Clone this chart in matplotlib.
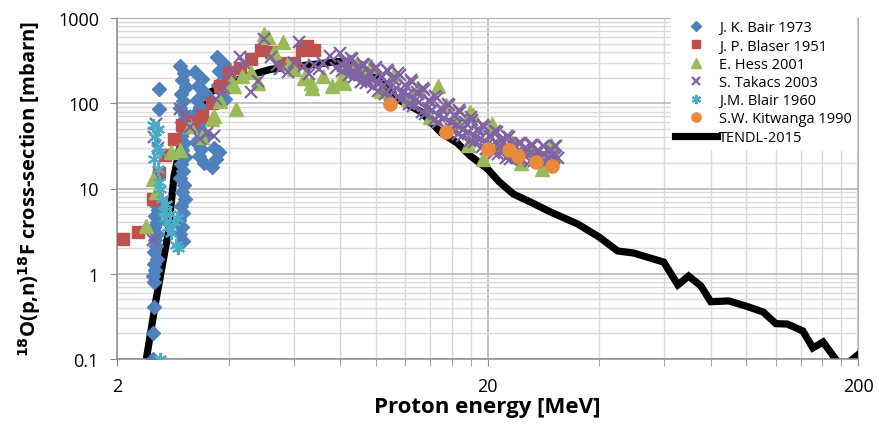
import numpy as np
import matplotlib.pyplot as plt
from matplotlib.ticker import FixedLocator, NullFormatter, FixedFormatter

# --- cross-section data, E in MeV, sigma in mbarn ---
bair_e = [2.50, 2.50, 2.52, 2.52,
          2.50, 2.54, 2.52, 2.56, 2.51, 2.55, 2.53, 2.57, 2.52, 2.56, 2.54, 2.58, 2.53, 2.57,
          2.60, 2.60,
          2.96, 3.04, 3.00, 3.07, 2.98, 3.02, 2.96, 3.05, 3.00, 3.07, 2.97, 3.03, 3.00, 3.06,
          2.98, 3.02, 2.95, 3.04, 3.00, 3.06, 2.97, 3.02, 2.94, 3.00, 2.96, 3.02,
          3.25, 3.40, 3.30, 3.45, 3.28, 3.36, 3.24, 3.42, 3.32, 3.46, 3.27, 3.38, 3.33, 3.44,
          3.72, 3.90, 3.78, 3.95, 3.75, 3.85, 3.92,
          3.60, 3.70, 3.78, 3.65]
bair_s = [0.10, 0.20, 0.41, 0.80,
          0.93, 1.1, 1.3, 1.5, 1.8, 2.1, 2.5, 2.9, 3.5, 4.1, 4.8, 5.6, 6.6, 7.7,
          147, 86,
          274, 226, 187, 155, 128, 106, 88, 73, 60, 50, 41, 34, 28, 23.4,
          19.4, 16.0, 13.3, 11.0, 9.1, 7.5, 6.2, 5.2, 4.3, 3.5, 2.9, 2.4,
          230, 192, 159, 131, 108, 90, 75, 62, 51, 42, 35, 29, 24, 20,
          349, 289, 239, 198, 164, 135, 112,
          18, 22, 27, 30]

blaser_e = [2.08, 2.28, 2.50, 2.60, 2.70, 2.85, 3.00, 3.20, 3.40, 3.60, 3.80, 4.00, 4.30,
            4.60, 4.90, 5.20, 5.60, 6.00, 6.30, 6.50, 6.80]
blaser_s = [2.55, 3.1, 7.5, 15, 25, 38, 55, 60, 70, 100, 160, 230, 260,
            330, 420, 400, 300, 300, 420, 470, 420]

hess_e = [2.40, 2.50, 2.55, 2.80, 2.96, 3.15, 3.40, 3.60, 3.65, 3.80, 4.05, 4.15, 4.20,
          4.35, 4.60, 4.80, 5.00, 5.10, 5.30, 5.60, 5.80, 6.00, 6.40, 6.66, 6.70, 7.20,
          7.60, 8.00, 8.20, 8.40, 8.90, 9.20, 9.70, 10.3, 10.3, 11.2, 12.2, 13.0, 14.0,
          14.7, 15.5, 16.5, 17.7, 17.9, 18.3, 19.5, 20.6, 21.5, 23.2, 24.7, 26.4, 28.0,
          29.7, 30.0]
hess_s = [3.6, 13, 9, 27, 28, 54, 40, 65, 70, 105, 175, 160, 86,
          210, 230, 175, 650, 600, 400, 520, 300, 250, 200, 175, 150, 210,
          160, 180, 175, 250, 300, 230, 275, 140, 147, 220, 112, 150, 69,
          160, 95, 60, 32, 79, 72, 22, 57, 33, 35, 20, 29, 17,
          32, 25]

takacs_e = [2.50, 2.52, 2.55, 2.58, 2.96, 3.05, 3.15, 3.35, 3.50, 3.65, 3.70, 3.90, 4.05,
            4.30, 4.40, 4.60, 4.80, 5.00, 5.20, 5.40, 5.50, 5.80, 6.00, 6.20, 6.40, 6.60,
            6.80, 7.00, 7.20, 7.50, 7.80,
            8.01, 8.16, 8.32, 8.47, 8.63, 8.80, 8.96, 9.13, 9.30, 9.48, 9.66, 9.84,
            10.0, 10.2, 10.4, 10.6, 10.8, 11.0, 11.2, 11.4, 11.6, 11.9, 12.1, 12.3,
            12.5, 12.8, 13.0, 13.3, 13.5, 13.8, 14.0, 14.3, 14.6, 14.8, 15.1, 15.4,
            15.7, 16.0, 16.3, 16.6, 16.9, 17.2, 17.6, 17.9, 18.2, 18.6, 18.9, 19.3,
            19.6, 20.0, 20.4, 20.8, 21.2, 21.6, 22.0, 22.4, 22.8, 23.2, 23.7, 24.1,
            24.6, 25.0, 25.5, 26.0, 26.5, 27.0, 27.5, 28.0, 28.5, 29.1, 29.6, 30.2, 30.7,
            8.09, 8.24, 8.40, 8.55, 8.72, 8.88, 9.05, 9.22, 9.39, 9.57, 9.75, 9.93,
            10.1, 10.3, 10.5, 10.7, 10.9, 11.1, 11.3, 11.5, 11.7, 12.0, 12.2, 12.4,
            12.6, 12.9, 13.1, 13.4, 13.6, 13.9, 14.2, 14.4, 14.7, 15.0, 15.3, 15.6,
            15.9, 16.2, 16.5, 16.8, 17.1, 17.4, 17.7, 18.1, 18.4, 18.8, 19.1, 19.5,
            19.8, 20.2, 20.6, 21.0, 21.4, 21.8, 22.2, 22.6, 23.0, 23.5, 23.9, 24.3,
            24.8, 25.3, 25.7, 26.2, 26.7, 27.2, 27.7, 28.3, 28.8, 29.3, 29.9, 30.5, 31.0]
takacs_s = [2.5, 40, 57, 30, 86, 70, 53, 38, 45, 41, 112, 150, 230,
            350, 300, 135, 180, 570, 350, 280, 250, 230, 300, 520, 270, 220,
            280, 250, 300, 360, 260,
            388, 270, 305, 212, 330, 226, 252, 177, 281, 192, 220, 155,
            266, 168, 203, 128, 239, 155, 187, 118, 214, 132, 155, 98,
            177, 109, 128, 79, 143, 88, 103, 64, 115, 71, 83, 51,
            95, 59, 70, 44, 79, 49, 57, 36, 64, 40, 47, 31,
            53, 33, 40, 26, 46, 29.5, 35, 22.8, 40, 26.8, 30.7, 22.5,
            34.2, 25.1, 29.1, 21.3, 32.4, 23.7, 27.5, 20.5, 31.5, 23.7, 28.3, 22.5, 31.5,
            239, 317, 259, 344, 203, 266, 214, 289, 173, 226, 187, 252,
            139, 209, 164, 245, 125, 192, 151, 226, 112, 164, 125, 187,
            92.8, 135, 103, 151, 74.8, 109, 83.3, 122, 60.3, 88, 67.1, 98,
            49.9, 72.8, 56.3, 83.3, 41.3, 60.3, 46, 69, 35.1, 49.9, 38.1, 55.6,
            29.1, 41.3, 32.4, 47.2, 25.4, 36.6, 28.3, 41.3, 22.2, 31.5, 26.1, 34.6,
            22.2, 29.5, 24.7, 32.8, 21.0, 27.9, 23.4, 31.5, 20.5, 27.9, 24.1, 31.1, 22.8]

blair_e = [2.61, 2.50, 2.53, 2.56, 2.52, 2.58, 2.60, 2.62, 2.65, 2.68, 2.70, 2.72, 2.75,
           2.78, 2.80, 2.85, 2.88, 2.90, 2.92, 2.62, 2.58]
blair_s = [0.10, 55, 40, 30, 22, 17, 12, 10, 7.5, 5.5, 4.5, 6.5, 3.5,
           5.0, 3.0, 4.0, 2.2, 4.5, 2.0, 27, 50]

kitwanga_e = [10.9, 15.5, 20.0, 22.9, 24.1, 27.0, 29.8]
kitwanga_s = [98, 46, 29, 28, 24, 20.5, 18.4]

tendl_e = [2.30, 2.40, 2.55, 2.75, 2.85, 3.00, 3.30, 3.57, 4.00, 4.50, 5.20, 6.00, 7.00,
           8.00, 8.50, 9.10, 10.0, 11.4, 13.2, 15.0, 16.6, 18.0, 20.0, 21.5, 23.5, 26.1,
           29.6, 35.0, 40.0, 44.9, 49.6, 59.8, 65.3, 69.8, 75.3, 80.1, 89.6, 101, 111,
           120, 129, 142, 151, 161, 177, 188, 201]
tendl_s = [0.05, 0.10, 0.5, 3.0, 14, 40, 85, 135, 170, 210, 250, 270, 290,
           310, 300, 260, 200, 112, 80, 45, 34, 24, 17, 12, 8.6, 6.95,
           5.3, 3.84, 2.7, 1.85, 1.75, 1.37, 0.74, 0.94, 0.72, 0.47, 0.48, 0.41, 0.355,
           0.26, 0.257, 0.213, 0.135, 0.158, 0.09, 0.09, 0.114]

plt.rcParams['font.family'] = ['Open Sans', 'DejaVu Sans']

fig = plt.figure(figsize=(8.8, 4.31), dpi=100)
ax = fig.add_axes([117 / 880, 71 / 431, 741 / 880, 341 / 431])

ax.plot(tendl_e, tendl_s, color='black', lw=5.2, solid_joinstyle='miter', zorder=2,
        label='TENDL-2015')

ax.plot(bair_e, bair_s, 'D', color='#4F81BD', ms=7, ls='none', zorder=3,
        label='J. K. Bair 1973')
ax.plot(blaser_e, blaser_s, 's', color='#C0504D', ms=8, ls='none', zorder=3,
        label='J. P. Blaser 1951')
ax.plot(hess_e, hess_s, '^', color='#9BBB59', ms=9.5, ls='none', zorder=3,
        label='E. Hess 2001')
ax.plot(takacs_e, takacs_s, 'x', color='#8064A2', ms=8, mew=1.6, ls='none', zorder=3,
        label='S. Takacs 2003')
ax.plot(blair_e, blair_s, marker=(6, 2, 0), color='#4BACC6', ms=9.5, mew=1.5, ls='none',
        zorder=3, label='J.M. Blair 1960')
ax.plot(kitwanga_e, kitwanga_s, 'o', color='#E8893C', ms=9.5, ls='none', zorder=3,
        label='S.W. Kitwanga 1990')

ax.set_xscale('log')
ax.set_yscale('log')
ax.set_xlim(2, 200)
ax.set_ylim(0.1, 1000)

ax.xaxis.set_major_locator(FixedLocator([2, 20, 200]))
ax.xaxis.set_major_formatter(FixedFormatter(['2', '20', '200']))
ax.xaxis.set_minor_locator(FixedLocator(list(range(4, 20, 2)) + list(range(40, 200, 20))))
ax.xaxis.set_minor_formatter(NullFormatter())
ax.yaxis.set_major_locator(FixedLocator([0.1, 1, 10, 100, 1000]))
ax.yaxis.set_major_formatter(FixedFormatter(['0.1', '1', '10', '100', '1000']))
minor_y = [m * d for d in (0.1, 1, 10, 100) for m in range(2, 10)]
ax.yaxis.set_minor_locator(FixedLocator(minor_y))
ax.yaxis.set_minor_formatter(NullFormatter())

ax.grid(True, which='minor', color='#d9d9d9', lw=1.0, zorder=0)
ax.grid(True, which='major', color='#b3b3b3', lw=1.1, zorder=0)
ax.set_axisbelow(True)

for side in ('top', 'right'):
    ax.spines[side].set_color('#b3b3b3')
for side in ('left', 'bottom'):
    ax.spines[side].set_color('#8c8c8c')
    ax.spines[side].set_linewidth(1.1)

ax.tick_params(axis='x', which='both', direction='out', length=5, color='#8c8c8c',
               labelsize=13, pad=8)
ax.tick_params(axis='y', which='major', direction='out', length=5, color='#8c8c8c',
               labelsize=13, pad=8)
ax.tick_params(axis='y', which='minor', length=0)

ax.set_xlabel('Proton energy [MeV]', fontsize=16, fontweight='bold', labelpad=1)
ax.set_ylabel(r'$\mathbf{^{18}}$O(p,n)$\mathbf{^{18}}$F cross-section [mbarn]',
              fontsize=14.5, fontweight='bold', labelpad=11)

handles, labels = ax.get_legend_handles_labels()
order = [1, 2, 3, 4, 5, 6, 0]
leg = ax.legend([handles[i] for i in order], [labels[i] for i in order],
                loc='upper right', bbox_to_anchor=(856 / 880, 1 - 17 / 431),
                bbox_transform=fig.transFigure, fontsize=10.5, frameon=True,
                fancybox=False, framealpha=1, edgecolor='white', facecolor='white',
                handlelength=2.9, handletextpad=0.1, labelspacing=0.22,
                borderpad=0.3, borderaxespad=0, markerscale=0.7)
leg.set_zorder(5)

fig.savefig('out.png', dpi=100)
